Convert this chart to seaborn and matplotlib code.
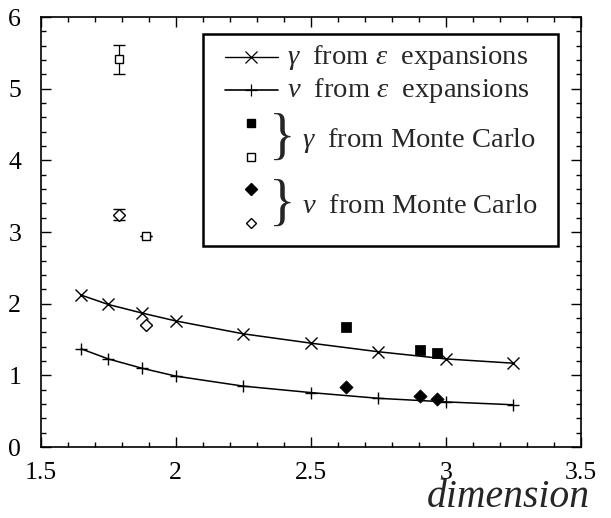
import matplotlib
matplotlib.use('Agg')
import matplotlib.pyplot as plt
from matplotlib.patches import Rectangle
from matplotlib.lines import Line2D
import seaborn as sns
import pandas as pd

# epsilon expansion curves
dims_eps = [1.65, 1.75, 1.875, 2.0, 2.25, 2.5, 2.75, 3.0, 3.25]
gamma_eps = [2.12, 1.99, 1.87, 1.76, 1.58, 1.45, 1.33, 1.23, 1.17]
nu_eps = [1.37, 1.23, 1.10, 0.99, 0.85, 0.76, 0.68, 0.63, 0.59]

# Monte Carlo, filled symbols
dims_mc_a = [2.63, 2.905, 2.967]
gamma_mc_a = [1.68, 1.36, 1.31]
nu_mc_a = [0.84, 0.71, 0.665]

# Monte Carlo, open symbols (with error bars)
dims_mc_b = [1.79, 1.89]
gamma_mc_b = [5.41, 2.94]
gamma_mc_b_err = [0.2, 0.0]
nu_mc_b = [3.24, 1.70]
nu_mc_b_err = [0.075, 0.0]

x_ticks = [1.5, 2, 2.5, 3, 3.5]
x_ticklabels = ['1.5', '2', '2.5', '3', '3.5']
y_ticks = [0, 1, 2, 3, 4, 5, 6]

sns.set_style('ticks')
plt.rcParams['font.family'] = ['Liberation Serif', 'DejaVu Serif']
plt.rcParams['mathtext.fontset'] = 'custom'
plt.rcParams['mathtext.rm'] = 'Liberation Serif'
plt.rcParams['mathtext.it'] = 'Liberation Serif:italic'

fig = plt.figure(figsize=(6.11, 5.18), dpi=100)
ax = fig.add_axes([0.0666, 0.137, 0.8838, 0.830])

eps_df = pd.DataFrame({'d': dims_eps, 'gamma': gamma_eps, 'nu': nu_eps})
sns.lineplot(data=eps_df, x='d', y='gamma', ax=ax, color='k', lw=1.1,
             marker='x', markersize=8, markeredgewidth=1.0, mec='k')
sns.lineplot(data=eps_df, x='d', y='nu', ax=ax, color='k', lw=1.1,
             marker='+', markersize=9, markeredgewidth=1.0, mec='k')

sns.scatterplot(x=dims_mc_a, y=gamma_mc_a, ax=ax, marker='s', s=45,
                color='k', edgecolor='k')
sns.scatterplot(x=dims_mc_a, y=nu_mc_a, ax=ax, marker='D', s=45,
                color='k', edgecolor='k')

ax.errorbar(dims_mc_b, gamma_mc_b, yerr=gamma_mc_b_err, fmt='s', ms=6,
            mfc='white', mec='k', mew=1.0, ecolor='k', elinewidth=0.9,
            capsize=4, capthick=0.9)
ax.errorbar(dims_mc_b, nu_mc_b, yerr=nu_mc_b_err, fmt='D', ms=6,
            mfc='white', mec='k', mew=1.0, ecolor='k', elinewidth=0.9,
            capsize=4, capthick=0.9)

ax.set_xlim(1.5, 3.5)
ax.set_ylim(0, 6)
ax.set_xticks(x_ticks)
ax.set_xticklabels(x_ticklabels)
ax.set_yticks(y_ticks)
ax.set_xticks([1.5 + 0.1 * i for i in range(21)], minor=True)
ax.set_yticks([0.2 * i for i in range(31)], minor=True)
ax.tick_params(which='both', direction='in', top=True, right=True,
               colors='k', width=1.0)
ax.tick_params(which='major', length=7.5, labelsize=18.5)
ax.tick_params(which='minor', length=3.7)
ax.tick_params(axis='x', which='major', pad=11)
ax.tick_params(axis='y', which='major', pad=14)
for s in ax.spines.values():
    s.set_visible(True)
    s.set_color('k')
    s.set_linewidth(1.2)
ax.set_xlabel('')
ax.set_ylabel('')

fig.text(0.966, 0.004, 'dimension', fontsize=28.5, style='italic',
         ha='right', va='bottom')

# hand-made legend
T = ax.transAxes
ax.add_patch(Rectangle((0.3006, 0.4686), 0.6574, 0.4914, transform=T,
                       fill=False, ec='k', lw=1.8, zorder=5))
ax.add_line(Line2D([0.341, 0.4394], [0.907, 0.907], transform=T, color='k',
                   lw=1.0, zorder=6))
ax.add_line(Line2D([0.390], [0.907], transform=T, marker='x', ms=8,
                   mec='k', mew=0.9, zorder=6))
ax.add_line(Line2D([0.341, 0.4394], [0.830, 0.830], transform=T, color='k',
                   lw=1.2, zorder=6))
ax.add_line(Line2D([0.390], [0.830], transform=T, marker='+', ms=9,
                   mec='k', mew=0.9, zorder=6))
ax.add_line(Line2D([0.3896], [0.7535], transform=T, marker='s', ms=5.5,
                   mfc='k', mec='k', zorder=6))
ax.add_line(Line2D([0.3896], [0.6756], transform=T, marker='s', ms=5.5,
                   mfc='white', mec='k', mew=1.0, zorder=6))
ax.add_line(Line2D([0.3896], [0.600], transform=T, marker='D', ms=6,
                   mfc='k', mec='k', zorder=6))
ax.add_line(Line2D([0.3896], [0.521], transform=T, marker='D', ms=5.5,
                   mfc='white', mec='k', mew=1.0, zorder=6))

fs = 20.5
ax.text(0.456, 0.907, r'$\mathit{\gamma}$  from $\mathit{\varepsilon}$  expansions',
        transform=T, fontsize=fs, va='center', ha='left', zorder=6)
ax.text(0.456, 0.830, r'$\mathit{\nu}$  from $\mathit{\varepsilon}$  expansions',
        transform=T, fontsize=fs, va='center', ha='left', zorder=6)
ax.text(0.447, 0.714, '}', transform=T, fontsize=40, va='center',
        ha='center', zorder=6)
ax.text(0.447, 0.560, '}', transform=T, fontsize=40, va='center',
        ha='center', zorder=6)
ax.text(0.484, 0.714, r'$\mathit{\gamma}$  from Monte Carlo', transform=T,
        fontsize=fs, va='center', ha='left', zorder=6)
ax.text(0.484, 0.560, r'$\mathit{\nu}$  from Monte Carlo', transform=T,
        fontsize=fs, va='center', ha='left', zorder=6)

fig.savefig('out.png', dpi=100)
